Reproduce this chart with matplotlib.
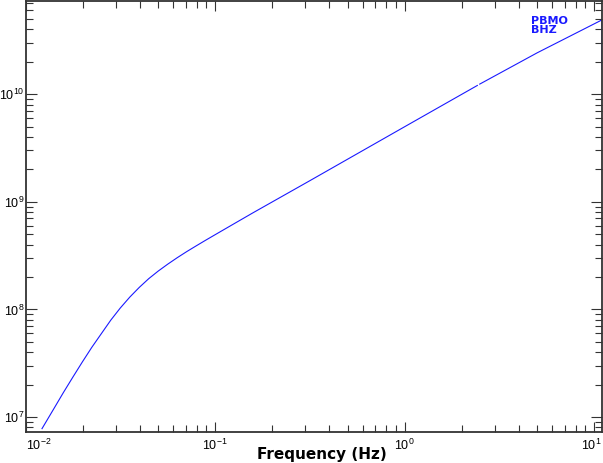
import matplotlib
matplotlib.use("Agg")
import matplotlib.pyplot as plt
import matplotlib.transforms as mtrans
import numpy as np

# amplitude response (freq in Hz)
freq = [0.01222, 0.01413, 0.01585, 0.01778, 0.01995, 0.02239, 0.02512,
        0.02818, 0.03162, 0.03548, 0.03981, 0.04467, 0.05012, 0.05623,
        0.0631, 0.07079, 0.07943, 0.08913, 0.1, 0.1259, 0.1585, 0.3162,
        1.0, 2.42, np.nan, 2.49, 5.0, 11.0, 11.0]
amp = [7.8e6, 1.20e7, 1.69e7, 2.35e7, 3.25e7, 4.45e7, 5.95e7,
       7.95e7, 1.03e8, 1.3e8, 1.6e8, 1.93e8, 2.27e8, 2.63e8,
       3.02e8, 3.44e8, 3.89e8, 4.39e8, 4.94e8, 6.25e8, 7.9e8, 1.57e9,
       4.98e9, 1.205e10, np.nan, 1.24e10, 2.42e10, 4.9e10, 1.7e10]

station = "PBMO"
channel = "BHZ"
xticks = [0.01, 0.1, 1, 10]
xlims = (0.01, 11.0)
ylims = (7.26e6, 7.34e10)

plt.rcParams['font.family'] = ['Liberation Sans', 'DejaVu Sans']
plt.rcParams['mathtext.fontset'] = 'custom'
plt.rcParams['mathtext.rm'] = 'Liberation Sans'

fig = plt.figure(figsize=(6.03, 4.63), dpi=100)
ax = fig.add_axes([25.5/603, 31/463, 576.5/603, 431/463])

ax.plot(freq, amp, color='#1a1aff', linewidth=0.8)

ax.set_xscale('log')
ax.set_yscale('log')
ax.set_xlim(*xlims)
ax.set_ylim(*ylims)
ax.set_xticks(xticks)

for s in ax.spines.values():
    s.set_color('#333333')
    s.set_linewidth(1.3)

ax.tick_params(which='both', direction='in', top=True, right=True,
               colors='#333333', labelcolor='black', width=0.8, labelsize=9)
ax.tick_params(axis='x', which='major', length=7.2, pad=4)
ax.tick_params(axis='x', which='minor', length=5)
ax.tick_params(axis='y', which='major', length=7.9, pad=0.6)
ax.tick_params(axis='y', which='minor', length=5)

xt = ax.xaxis.get_major_ticks()
xt[0].label1.set_horizontalalignment('left')
last = xt[-1].label1
last.set_transform(last.get_transform() +
                   mtrans.ScaledTranslation(-3/100, 0, fig.dpi_scale_trans))

ax.set_xlabel("Frequency (Hz)", family='DejaVu Sans', fontweight='bold',
              fontsize=11, va='center')
ax.xaxis.set_label_coords(0.514, -0.053)

ax.text(0.876, 0.9466, station, transform=ax.transAxes, color='#1a1aff',
        family='DejaVu Sans', fontweight='bold', fontsize=8, va='baseline')
ax.text(0.876, 0.9246, channel, transform=ax.transAxes, color='#1a1aff',
        family='DejaVu Sans', fontweight='bold', fontsize=8, va='baseline')

fig.savefig("out.png", dpi=100)
